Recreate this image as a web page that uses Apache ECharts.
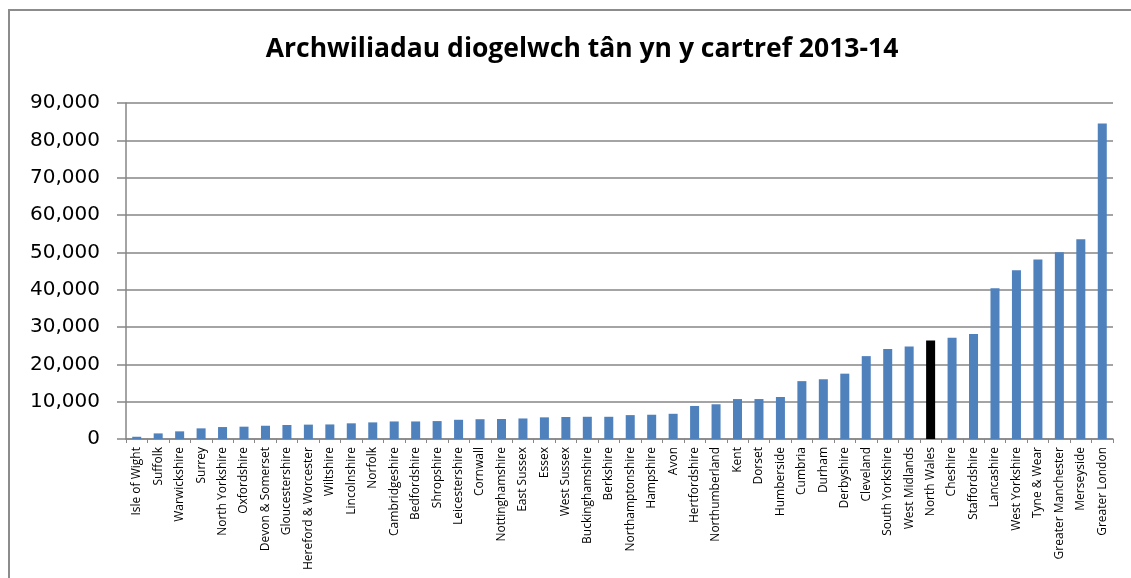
<!DOCTYPE html>
<html>
<head>
<meta charset="utf-8">
<script src="https://cdn.jsdelivr.net/npm/echarts@6/dist/echarts.min.js"></script>
<style>
  html, body { margin: 0; padding: 0; background: #fff; }
  #chart { width: 1131px; height: 578px; }
</style>
</head>
<body>
<div id="chart"></div>
<script>
const titleText = 'Archwiliadau diogelwch tân yn y cartref 2013-14'

const categories = [
  'Isle of Wight', 'Suffolk', 'Warwickshire', 'Surrey', 'North Yorkshire', 'Oxfordshire',
  'Devon & Somerset', 'Gloucestershire', 'Hereford & Worcester', 'Wiltshire', 'Lincolnshire',
  'Norfolk', 'Cambridgeshire', 'Bedfordshire', 'Shropshire', 'Leicestershire', 'Cornwall',
  'Nottinghamshire', 'East Sussex', 'Essex', 'West Sussex', 'Buckinghamshire', 'Berkshire',
  'Northamptonshire', 'Hampshire', 'Avon', 'Hertfordshire', 'Northumberland', 'Kent', 'Dorset',
  'Humberside', 'Cumbria', 'Durham', 'Derbyshire', 'Cleveland', 'South Yorkshire',
  'West Midlands', 'North Wales', 'Cheshire', 'Staffordshire', 'Lancashire', 'West Yorkshire',
  'Tyne & Wear', 'Greater Manchester', 'Merseyside', 'Greater London'
]

const audits = [
  600, 1500, 2050, 2850, 3200, 3300,
  3550, 3750, 3850, 3900, 4200,
  4450, 4700, 4700, 4800, 5150, 5300,
  5350, 5500, 5800, 5900, 5950, 5950,
  6400, 6500, 6750, 8850, 9300, 10700, 10700,
  11250, 15500, 16000, 17500, 22200, 24100,
  24800, 26400, 27100, 28100, 40400, 45200,
  48050, 50000, 53500, 84500
]

const highlighted = 'North Wales'

const yMax = 90000
const yStep = 10000

const chart = echarts.init(document.getElementById('chart'))

chart.setOption({
  animation: false,
  title: {
    text: titleText,
    left: 577,
    top: 31,
    textAlign: 'center',
    textStyle: {
      fontFamily: 'Open Sans',
      fontWeight: 'bold',
      fontSize: 26.5,
      color: '#000'
    }
  },
  graphic: [
    {
      type: 'rect',
      shape: { x: 9, y: 10, width: 1140, height: 600 },
      style: { fill: 'none', stroke: '#8c8c8c', lineWidth: 2 },
      silent: true
    }
  ],
  grid: {
    left: 126,
    right: 18,
    top: 103,
    bottom: 139
  },
  xAxis: {
    type: 'category',
    data: categories,
    axisLine: { lineStyle: { color: '#868686', width: 1.5 } },
    axisTick: { show: true, length: 4, lineStyle: { color: '#868686' } },
    axisLabel: {
      interval: 0,
      rotate: 90,
      margin: 8,
      fontFamily: 'Open Sans',
      fontSize: 12,
      color: '#000'
    }
  },
  yAxis: {
    type: 'value',
    min: 0,
    max: yMax,
    interval: yStep,
    axisLine: { show: true, lineStyle: { color: '#868686', width: 1.5 } },
    axisTick: { show: true, length: 9, lineStyle: { color: '#868686', width: 1.5 } },
    splitLine: { lineStyle: { color: '#868686', width: 1.5 } },
    axisLabel: {
      margin: 26,
      fontFamily: 'DejaVu Sans',
      fontSize: 20,
      color: '#000',
      formatter: v => v.toLocaleString('en-GB')
    }
  },
  series: [
    {
      type: 'bar',
      data: audits,
      barWidth: '42%',
      itemStyle: {
        color: p => (categories[p.dataIndex] === highlighted ? '#000000' : '#4f81bd')
      }
    }
  ]
})
</script>
</body>
</html>
